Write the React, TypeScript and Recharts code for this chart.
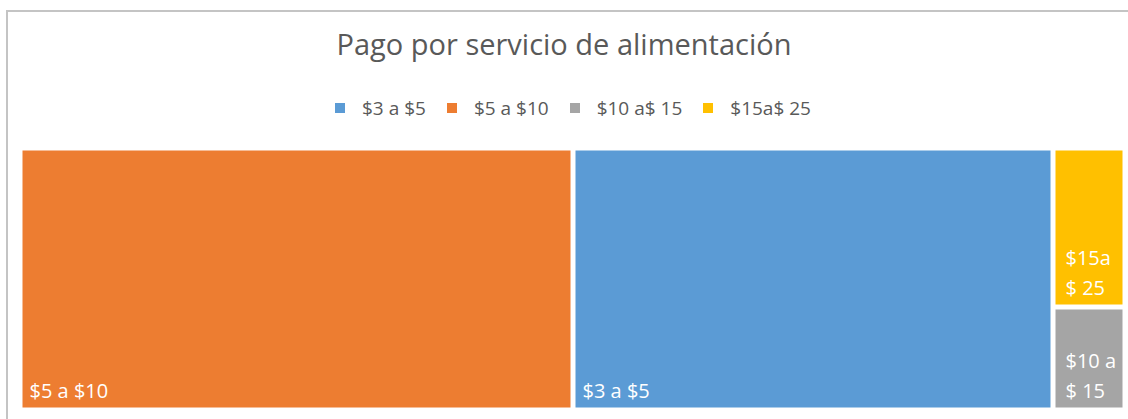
import React from "react";
import { Treemap } from "recharts";

// Treemap blocks, in drawing order (largest first)
const blockNames = ["$5 a $10", "$3 a $5", "$15a$ 25", "$10 a$ 15"];
const blockValues = [38, 33, 3, 2];
const blockColors = ["#ED7D31", "#5B9BD5", "#FFC000", "#A5A5A5"];
const blockLabels = [["$5 a $10"], ["$3 a $5"], ["$15a", "$ 25"], ["$10 a", "$ 15"]];

// Legend order as shown in the chart
const legendNames = ["$3 a $5", "$5 a $10", "$10 a$ 15", "$15a$ 25"];
const legendColors = ["#5B9BD5", "#ED7D31", "#A5A5A5", "#FFC000"];

const chartTitle = "Pago por servicio de alimentación";

const FONT = "'Open Sans', sans-serif";
const GAP = 5;

const treeData = blockNames.map((name, i) => ({
  name,
  size: blockValues[i],
  color: blockColors[i],
  lines: blockLabels[i],
}));

function Block(props: any) {
  const { x, y, width, height, depth, color, lines } = props;
  if (depth !== 1) return <g />;
  const half = GAP / 2;
  const pad = width < 100 ? 10 : 7;
  const n = lines ? lines.length : 0;
  return (
    <g>
      <rect
        x={x + half}
        y={y + half}
        width={Math.max(0, width - GAP)}
        height={Math.max(0, height - GAP)}
        fill={color}
      />
      {(lines || []).map((t: string, i: number) => (
        <text
          key={i}
          x={x + half + pad}
          y={y + height - half - 10 - (n - 1 - i) * 30}
          fill="#fff"
          fontSize={20}
          fontFamily={FONT}
        >
          {t}
        </text>
      ))}
    </g>
  );
}

export default function App() {
  return (
    <div
      style={{
        position: "absolute",
        left: 0,
        top: 0,
        width: 1128,
        height: 419,
        overflow: "hidden",
        background: "#fff",
        fontFamily: FONT,
      }}
    >
      <div
        style={{
          position: "absolute",
          left: 6,
          top: 10,
          width: 1200,
          height: 500,
          border: "2px solid #C4C4C4",
        }}
      />
      <div
        style={{
          position: "absolute",
          left: 0,
          top: 29,
          width: 1128,
          textAlign: "center",
          fontSize: 29,
          lineHeight: "29px",
          color: "#595959",
        }}
      >
        {chartTitle}
      </div>
      <div
        style={{
          position: "absolute",
          left: 335,
          top: 98,
          display: "flex",
          alignItems: "center",
          height: 20,
          fontSize: 19,
          lineHeight: "20px",
          color: "#595959",
          whiteSpace: "nowrap",
        }}
      >
        {legendNames.map((name, i) => (
          <div key={name} style={{ display: "flex", alignItems: "center", marginRight: 21 }}>
            <span
              style={{
                display: "inline-block",
                width: 10,
                height: 10,
                background: legendColors[i],
                marginRight: 17,
              }}
            />
            <span>{name}</span>
          </div>
        ))}
      </div>
      <div style={{ position: "absolute", left: 19.5, top: 147.5 }}>
        <Treemap
          width={1105}
          height={262}
          data={treeData}
          dataKey="size"
          nameKey="name"
          type="flat"
          stroke="none"
          isAnimationActive={false}
          content={<Block />}
        />
      </div>
    </div>
  );
}
